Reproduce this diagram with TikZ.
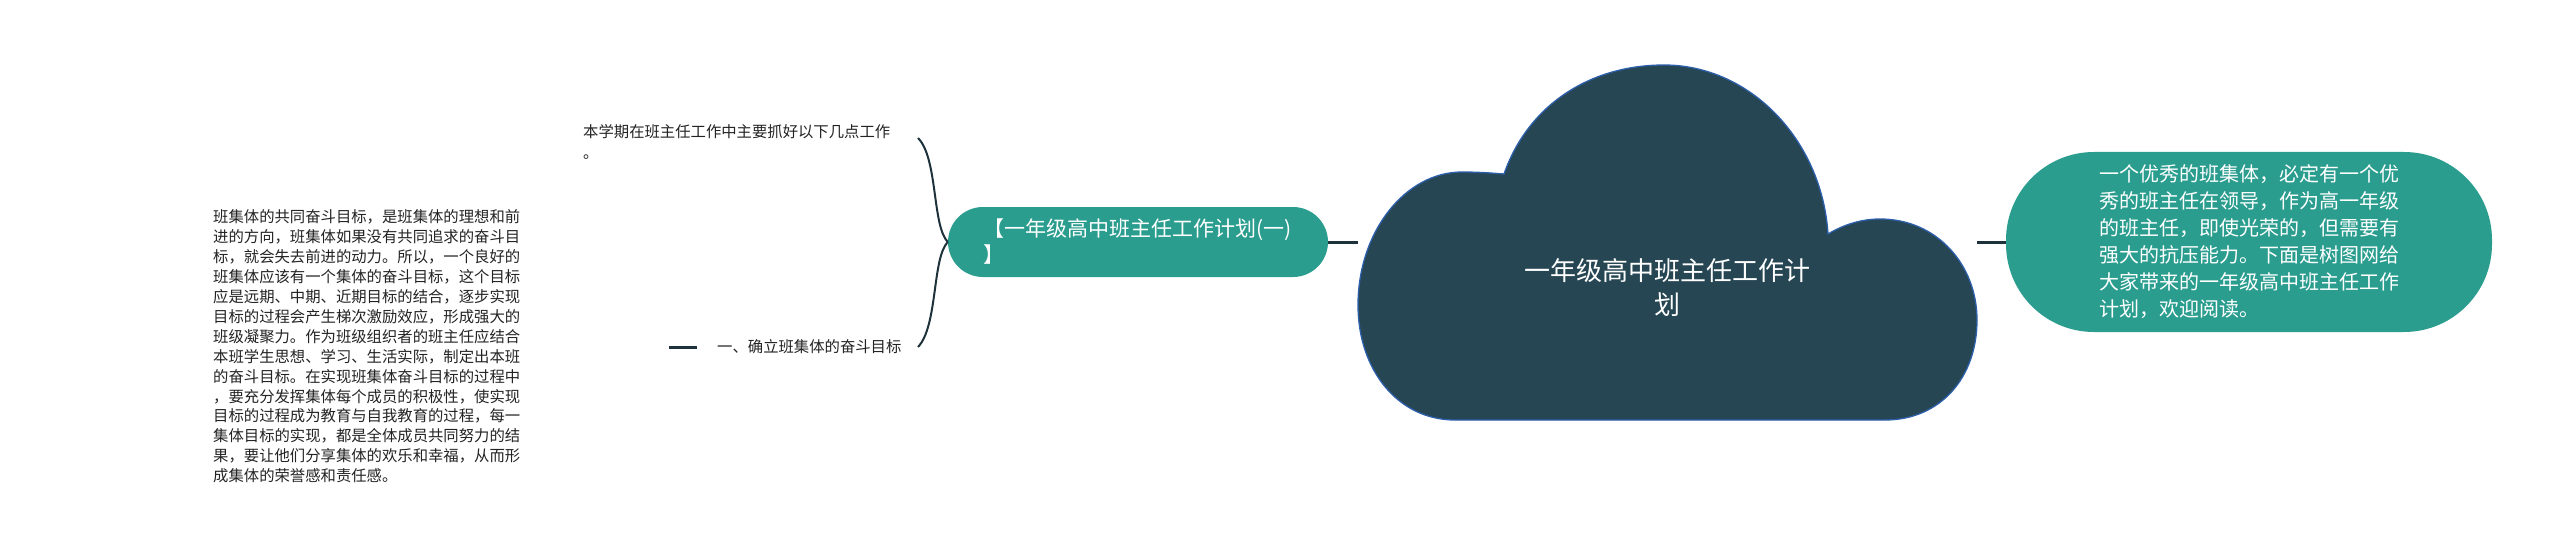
\documentclass[tikz,border=0pt]{standalone}
\usepackage{fontspec}
\setmainfont{Noto Sans CJK SC}
\definecolor{cloudfill}{RGB}{38,70,83}
\definecolor{cloudedge}{RGB}{45,95,170}
\definecolor{nodeteal}{RGB}{42,157,143}
\definecolor{linedark}{RGB}{30,50,60}
\definecolor{leafink}{RGB}{35,35,35}
\begin{document}
\begin{tikzpicture}[x=1pt,y=-1pt,
  conn/.style={line width=3pt, draw=linedark},
  bracel/.style={line width=2pt, draw=linedark},
  leaf/.style={inner sep=0pt, text=leafink, align=left, anchor=west},
  pill/.style={fill=nodeteal, text=white, inner sep=0pt}
]
\useasboundingbox (0,0) rectangle (2560,559);

% cloud (root shape)
\path[fill=cloudfill, draw=cloudedge, line width=1.3pt]
  (1504,174)
  .. controls (1528,105) and (1590,65) .. (1664,65)
  .. controls (1750,65) and (1822,140) .. (1828,234)
  .. controls (1845,224) and (1862,219) .. (1880,219)
  .. controls (1937,219) and (1977,265) .. (1977,320)
  .. controls (1977,378) and (1940,420) .. (1885,420)
  -- (1455,420)
  .. controls (1398,420) and (1358,370) .. (1358,305)
  .. controls (1358,232) and (1405,172) .. (1462,172)
  .. controls (1478,172) and (1492,173) .. (1504,174)
  -- cycle;
\coordinate (cl) at (1358,242);
\coordinate (cr) at (1977,242);

\node[font=\fontsize{26}{34}\selectfont, text=white, align=center] (root) at (1667,288)
  {一年级高中班主任工作计\\划};

% right intro node
\node[pill, minimum width=486pt, minimum height=180pt, rounded corners=88pt,
      font=\fontsize{20}{27}\selectfont, align=left] (intro) at (2249,242)
  {一个优秀的班集体，必定有一个优\\秀的班主任在领导，作为高一年级\\的班主任，即使光荣的，但需要有\\强大的抗压能力。下面是树图网给\\大家带来的一年级高中班主任工作\\计划，欢迎阅读。};

% branch node
\node[pill, minimum width=380pt, minimum height=70pt, rounded corners=35pt,
      font=\fontsize{21}{26}\selectfont, text width=310pt, align=left] (branch) at (1138,242)
  {【一年级高中班主任工作计划(一)\\】};

% leaves
\node[leaf, font=\fontsize{15.35}{21}\selectfont] (top) at (583,142)
  {本学期在班主任工作中主要抓好以下几点工作\\。};
\node[leaf, font=\fontsize{15.35}{20}\selectfont] (goal) at (717,347)
  {一、确立班集体的奋斗目标};
\node[leaf, font=\fontsize{15.35}{19.9}\selectfont] (detail) at (213,346.5)
  {班集体的共同奋斗目标，是班集体的理想和前\\
   进的方向，班集体如果没有共同追求的奋斗目\\
   标，就会失去前进的动力。所以，一个良好的\\
   班集体应该有一个集体的奋斗目标，这个目标\\
   应是远期、中期、近期目标的结合，逐步实现\\
   目标的过程会产生梯次激励效应，形成强大的\\
   班级凝聚力。作为班级组织者的班主任应结合\\
   本班学生思想、学习、生活实际，制定出本班\\
   的奋斗目标。在实现班集体奋斗目标的过程中\\
   ，要充分发挥集体每个成员的积极性，使实现\\
   目标的过程成为教育与自我教育的过程，每一\\
   集体目标的实现，都是全体成员共同努力的结\\
   果，要让他们分享集体的欢乐和幸福，从而形\\
   成集体的荣誉感和责任感。};

% connectors
\draw[conn] (branch.east) -- (cl);
\draw[conn] (cr) -- (intro.west);
\coordinate (bt) at (918,138);
\coordinate (bb) at (918,347);
\draw[bracel] (branch.west) .. controls (932,226) and (938,158) .. (bt);
\draw[bracel] (branch.west) .. controls (932,258) and (938,326) .. (bb);
\coordinate (gdl) at (669,347);
\coordinate (gdr) at (697,347);
\draw[conn] (gdl) -- (gdr);
\end{tikzpicture}
\end{document}
